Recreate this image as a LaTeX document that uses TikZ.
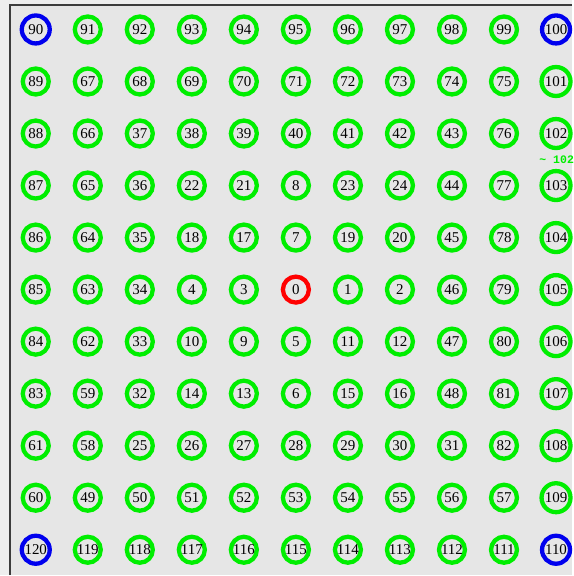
\documentclass[tikz,border=0pt]{standalone}
\usepackage{fontspec}
\setmainfont{Liberation Serif}
\newfontfamily\monofnt{Liberation Mono}
\definecolor{bgout}{HTML}{EEEEEE}
\definecolor{bgin}{HTML}{E6E6E6}
\definecolor{framec}{HTML}{3C3C3C}
\definecolor{ringgreen}{HTML}{00EE00}
\definecolor{ringblue}{HTML}{0000EE}
\definecolor{ringred}{HTML}{FF0000}
\tikzset{
  cell/.style={circle, draw=ringgreen, line width=4.3pt, minimum size=26pt, inner sep=0pt,
    font=\fontsize{15}{15}\selectfont, text=black},
  bigcell/.style={cell, minimum size=29pt},
  bluecell/.style={cell, draw=ringblue, minimum size=28pt},
  redcell/.style={cell, draw=ringred},
  note/.style={font=\monofnt\bfseries\fontsize{11.5}{11.5}\selectfont, text=ringgreen, anchor=west, inner sep=0pt}
}
\begin{document}
\begin{tikzpicture}[x=1pt,y=-1pt]
\fill[bgout] (0,0) rectangle (573,576);
\fill[bgin] (10,5) rectangle (573,576);
\draw[framec, line width=1.6pt] (10,576) -- (10,5) -- (573,5);
\useasboundingbox (0,0) rectangle (573,576);
\foreach \row [count=\j from 0] in {
  {90,91,92,93,94,95,96,97,98,99,100},
  {89,67,68,69,70,71,72,73,74,75,101},
  {88,66,37,38,39,40,41,42,43,76,102},
  {87,65,36,22,21,8,23,24,44,77,103},
  {86,64,35,18,17,7,19,20,45,78,104},
  {85,63,34,4,3,0,1,2,46,79,105},
  {84,62,33,10,9,5,11,12,47,80,106},
  {83,59,32,14,13,6,15,16,48,81,107},
  {61,58,25,26,27,28,29,30,31,82,108},
  {60,49,50,51,52,53,54,55,56,57,109},
  {120,119,118,117,116,115,114,113,112,111,110}}{
  \foreach \v [count=\i from 0] in \row {
    \pgfmathsetmacro{\cx}{35.8+52.1*\i}
    \pgfmathsetmacro{\cy}{29.5+52.1*\j}
    \ifnum\v=0
      \node[redcell] (n\v) at (\cx,\cy) {\v};
    \else\ifnum\v=90
      \node[bluecell] (n\v) at (\cx,\cy) {\v};
    \else\ifnum\v=100
      \node[bluecell] (n\v) at (\cx,\cy) {\v};
    \else\ifnum\v=110
      \node[bluecell] (n\v) at (\cx,\cy) {\v};
    \else\ifnum\v=120
      \node[bluecell] (n\v) at (\cx,\cy) {\v};
    \else\ifnum\i=10
      \node[bigcell] (n\v) at (\cx,\cy) {\v};
    \else
      \node[cell] (n\v) at (\cx,\cy) {\v};
    \fi\fi\fi\fi\fi\fi
  }
}
\node[note] (lbl) at (540,160) {\textasciitilde\ 102};
\end{tikzpicture}
\end{document}
